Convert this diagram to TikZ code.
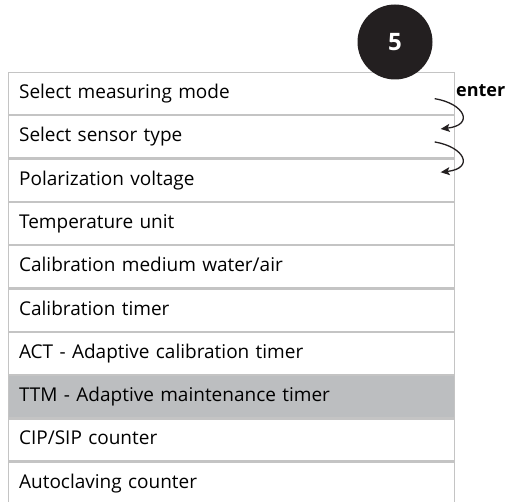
\documentclass[tikz,border=0pt]{standalone}
\usepackage{fontspec}
\setmainfont{Open Sans}
\usepackage{tikz}
\usetikzlibrary{arrows.meta,calc,positioning}
\definecolor{RowLine}{HTML}{C4C4C4}
\definecolor{RowMark}{HTML}{BCBEC0}
\definecolor{StepBlack}{HTML}{231F20}

\begin{document}
\begin{tikzpicture}[x=1pt, y=-1pt, every node/.style={font=\fontsize{19}{22}\selectfont},
    row/.style={draw=RowLine, line width=1.2pt, anchor=north west, minimum width=446pt,
        minimum height=42.1pt, text width=424pt, align=left, inner xsep=11pt,
        text height=14pt, text depth=4.2pt},
    turn/.style={-{Stealth[length=9pt,width=8pt,inset=2pt]}, line width=1.3pt, StepBlack}]
    \useasboundingbox (0,0) rectangle (512,502);

    % Menu rows
    \node[row] (m1) at (7.5,72) {Select measuring mode};
    \node[row, below=0pt of m1] (m2) {Select sensor type};
    \node[row, below=0pt of m2] (m3) {Polarization voltage};
    \node[row, below=0pt of m3] (m4) {Temperature unit};
    \node[row, below=0pt of m4] (m5) {Calibration medium water/air};
    \node[row, below=0pt of m5] (m6) {Calibration timer};
    \node[row, below=0pt of m6] (m7) {ACT - Adaptive calibration timer};
    \node[row, below=0pt of m7, fill=RowMark] (m8) {TTM - Adaptive maintenance timer};
    \node[row, below=0pt of m8] (m9) {CIP/SIP counter};
    \node[row, below=0pt of m9] (m10) {Autoclaving counter};

    % Step number
    \node[circle, fill=StepBlack, minimum size=75pt, inner sep=0pt, text=white,
        font=\fontsize{24}{26}\selectfont\bfseries] (step5) at (395,42) {5};

    % Enter key
    \node[anchor=base west, inner sep=0pt, font=\fontsize{18}{20}\selectfont\bfseries]
        (enter) at (456,97) {enter};

    % Enter arrows
    \draw[turn] ($(m1.east)+(-20,5)$) .. controls ($(m1.east)+(10,10)$) and ($(m2.east)+(20,-12)$) .. ($(m2.east)+(-14,-8)$);
    \draw[turn] ($(m2.east)+(-20,5)$) .. controls ($(m2.east)+(10,10)$) and ($(m3.east)+(20,-12)$) .. ($(m3.east)+(-14,-8)$);
\end{tikzpicture}
\end{document}
